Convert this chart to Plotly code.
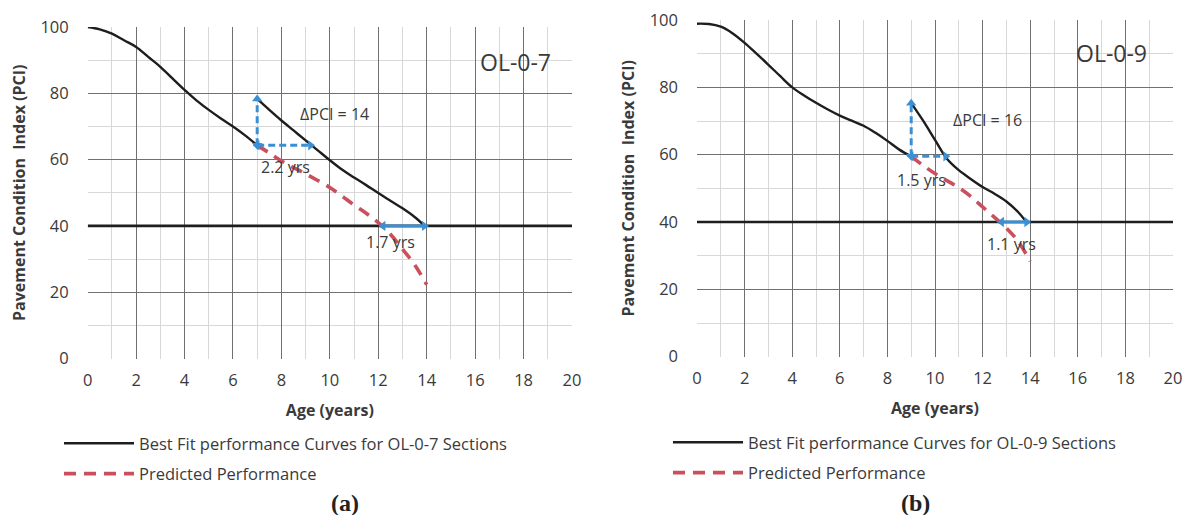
import plotly.graph_objects as go

# ---------------- data ----------------
# (a) OL-0-7
a_age = [0, 0.5, 1, 1.5, 2, 2.5, 3, 3.5, 4, 4.5, 5, 5.5, 6, 6.5, 7]
a_pci = [100, 99.3, 98, 96, 94, 91, 88, 84.5, 81, 77.8, 75, 72.4, 70, 67.3, 64.3]
a_rehab_age = [7, 7.5, 8, 8.5, 9, 9.5, 10, 10.5, 11, 11.5, 12, 12.5, 13, 13.5, 13.9]
a_rehab_pci = [78.3, 75, 71.8, 68.8, 65.8, 62.8, 59.8, 57, 54.6, 52.3, 49.9, 47.6, 45.3, 42.7, 40.1]
a_pred_age = [7, 7.5, 8, 8.5, 9, 9.5, 10, 10.5, 11, 11.5, 12, 12.5, 13, 13.5, 14]
a_pred_pci = [64.3, 62, 59.6, 57.6, 55.7, 53.7, 51.6, 49, 46.3, 43.8, 41, 37.5, 33, 28.3, 22.3]
a_dpci_x = [7, 7]
a_dpci_y = [64.3, 78.3]
a_gain_x = [7, 9.2]
a_gain_y = [64.3, 64.3]
a_life_x = [12.2, 13.9]
a_life_y = [40, 40]

# (b) OL-0-9
b_age = [0, 0.5, 1, 1.5, 2, 2.5, 3, 3.5, 4, 4.5, 5, 5.5, 6, 6.5, 7, 7.5, 8, 8.5, 9]
b_pci = [98.9, 98.8, 98, 96, 93.2, 90, 86.7, 83.3, 80, 77.6, 75.4, 73.4, 71.6, 70.1, 68.6, 66.5, 64.1, 61.5, 59.5]
b_rehab_age = [9, 9.5, 10, 10.5, 11, 11.5, 12, 12.5, 13, 13.5, 13.9]
b_rehab_pci = [75.3, 70.1, 64.4, 58.8, 55.4, 52.8, 50.4, 48.4, 46.1, 42.9, 39.4]
b_pred_age = [9, 9.5, 10, 10.5, 11, 11.5, 12, 12.5, 13, 13.5, 14]
b_pred_pci = [59.5, 56.8, 54.4, 52.3, 50.2, 47.6, 44.5, 41.4, 38.2, 34.2, 28.3]
b_dpci_x = [9, 9]
b_dpci_y = [59.5, 75.3]
b_gain_x = [9, 10.45]
b_gain_y = [59.5, 59.5]
b_life_x = [12.8, 13.85]
b_life_y = [40, 40]

threshold_x = [0, 20]
threshold_y = [40, 40]

x_ticks = [0, 2, 4, 6, 8, 10, 12, 14, 16, 18, 20]
y_ticks = [0, 20, 40, 60, 80, 100]

# ---------------- style ----------------
FONT = "Open Sans"
BLACK = "#1e1e1e"
RED = "#c9505c"
BLUE = "#3b8fd3"
TXT = "#3a3a3a"

# the page body has an 8px margin: figure sits at (8, 8) in the window
OFF = 8
W, H = 1184, 507


def PX(x):
    return (x - OFF) / W


def PY(y):
    return 1 - (y - OFF) / H


fig = go.Figure()


def add_panel(xa, ya, legend, age, pci, r_age, r_pci, p_age, p_pci,
              dx, dy, gx, gy, lx, ly, name):
    fig.add_trace(go.Scatter(x=threshold_x, y=threshold_y, mode="lines",
                             line=dict(color=BLACK, width=2.6), xaxis=xa, yaxis=ya,
                             showlegend=False, hoverinfo="skip"))
    fig.add_trace(go.Scatter(x=age, y=pci, mode="lines",
                             name=f"Best Fit performance Curves for {name} Sections",
                             line=dict(color=BLACK, width=2.4, shape="spline"), xaxis=xa, yaxis=ya,
                             legend=legend, legendgroup=xa + "bf"))
    fig.add_trace(go.Scatter(x=r_age, y=r_pci, mode="lines", name="bf2",
                             line=dict(color=BLACK, width=2.4, shape="spline"), xaxis=xa, yaxis=ya,
                             showlegend=False, legendgroup=xa + "bf"))
    fig.add_trace(go.Scatter(x=p_age, y=p_pci, mode="lines", name="Predicted Performance",
                             line=dict(color=RED, width=3.6, dash="12px,8px", shape="spline"),
                             xaxis=xa, yaxis=ya, legend=legend, legendgroup=xa + "pp"))
    for xs, ys, syms in [(dx, dy, ["triangle-down", "triangle-up"]),
                         (gx, gy, ["triangle-left", "triangle-right"])]:
        fig.add_trace(go.Scatter(x=xs, y=ys, mode="lines+markers",
                                 line=dict(color=BLUE, width=3, dash="7px,4px"),
                                 marker=dict(symbol=syms, size=9, color=BLUE),
                                 xaxis=xa, yaxis=ya, showlegend=False, hoverinfo="skip"))
    fig.add_trace(go.Scatter(x=lx, y=ly, mode="lines+markers",
                             line=dict(color=BLUE, width=3),
                             marker=dict(symbol=["triangle-left", "triangle-right"], size=9, color=BLUE),
                             xaxis=xa, yaxis=ya, showlegend=False, hoverinfo="skip"))


add_panel("x", "y", "legend", a_age, a_pci, a_rehab_age, a_rehab_pci, a_pred_age, a_pred_pci,
          a_dpci_x, a_dpci_y, a_gain_x, a_gain_y, a_life_x, a_life_y, "OL-0-7")
add_panel("x2", "y2", "legend2", b_age, b_pci, b_rehab_age, b_rehab_pci, b_pred_age, b_pred_pci,
          b_dpci_x, b_dpci_y, b_gain_x, b_gain_y, b_life_x, b_life_y, "OL-0-9")

axis_common = dict(
    showline=False, zeroline=False, automargin=False,
    gridcolor="#707070", gridwidth=1,
    minor=dict(showgrid=True, gridcolor="#d8d8d8", gridwidth=1.3),
    tickfont=dict(family=FONT, size=16.5, color=TXT),
    ticks="", fixedrange=True, ticklabeloverflow="allow",
)

xa_common = dict(axis_common, range=[0, 20], tickvals=x_ticks, minor_dtick=1,
                 ticklabelstandoff=10,
                 title=dict(text="<b>Age (years)</b>", font=dict(family=FONT, size=16, color=TXT), standoff=14))
ya_common = dict(axis_common, range=[0, 100], tickvals=y_ticks, minor_dtick=10,
                 ticklabelstandoff=18,
                 title=dict(text="<b>Pavement Condition  Index (PCI)</b>", font=dict(family=FONT, size=16, color=TXT), standoff=11))

legend_common = dict(xanchor="left", yanchor="top",
                     font=dict(family=FONT, size=16.5, color=TXT), itemwidth=70,
                     bgcolor="rgba(0,0,0,0)", tracegroupgap=6)

fig.update_layout(
    width=W, height=H,
    margin=dict(l=0, r=0, t=0, b=0),
    paper_bgcolor="white", plot_bgcolor="white",
    xaxis=dict(xa_common, domain=[PX(87.7), PX(572)], anchor="y"),
    yaxis=dict(ya_common, domain=[PY(358.5), PY(27)], anchor="x"),
    xaxis2=dict(xa_common, domain=[PX(697), PX(1173)], anchor="y2"),
    yaxis2=dict(ya_common, domain=[PY(356.7), PY(20)], anchor="x2"),
    legend=dict(legend_common, x=PX(59), y=PY(426)),
    legend2=dict(legend_common, x=PX(668), y=PY(425)),
    showlegend=True,
)

ann = []


def txt(x, y, s, xr, yr, size=16):
    ann.append(dict(x=x, y=y, xref=xr, yref=yr, text=s, showarrow=False,
                    xanchor="center", yanchor="middle",
                    font=dict(family=FONT, size=size, color=TXT)))


txt(17.65, 89.4, "OL-0-7", "x", "y", 23)
txt(10.2, 73.8, "ΔPCI = 14", "x", "y")
txt(8.15, 57.8, "2.2 yrs", "x", "y")
txt(12.5, 35.1, "1.7 yrs", "x", "y")
txt(17.4, 90.2, "OL-0-9", "x2", "y2", 23)
txt(12.2, 70.2, "ΔPCI = 16", "x2", "y2")
txt(9.42, 52.6, "1.5 yrs", "x2", "y2")
txt(13.2, 33.4, "1.1 yrs", "x2", "y2")

for cx, s in [(345, "(a)"), (915, "(b)")]:
    ann.append(dict(x=PX(cx), y=PY(503), xref="paper", yref="paper", text=f"<b>{s}</b>",
                    xanchor="center", yanchor="middle", showarrow=False,
                    font=dict(family="Liberation Serif", size=24, color="#222")))

fig.update_layout(annotations=ann)

fig.write_html("out.html")
